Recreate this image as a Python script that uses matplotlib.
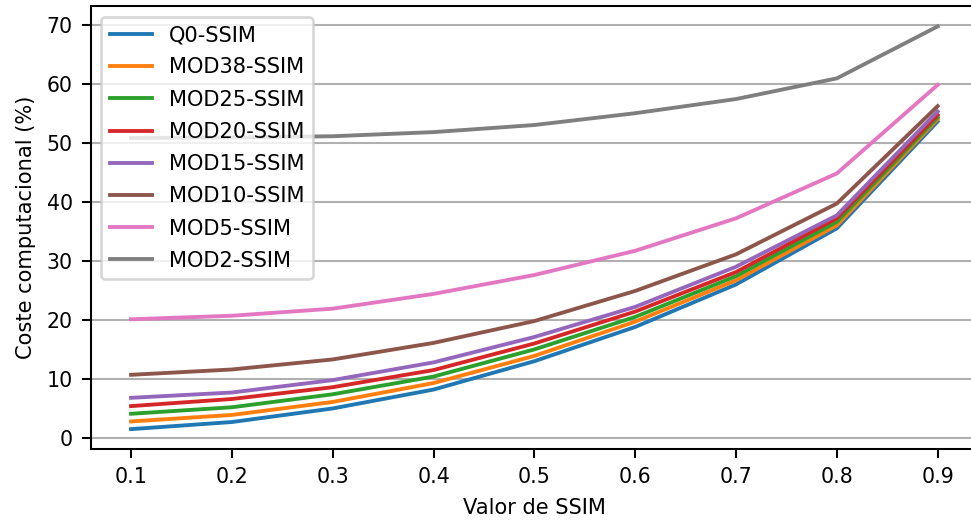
import numpy as np
import matplotlib.pyplot as plt

# Valores de SSIM y coste computacional (%) de cada configuración
ssim = [0.1, 0.2, 0.3, 0.4, 0.5, 0.6, 0.7, 0.8, 0.9]

q0 = [1.5, 2.7, 5.0, 8.2, 13.0, 18.8, 26.0, 35.5, 53.6]
mod38 = [2.8, 3.9, 6.1, 9.3, 13.9, 19.7, 26.7, 36.0, 54.0]
mod25 = [4.1, 5.2, 7.4, 10.4, 15.0, 20.5, 27.4, 36.6, 54.3]
mod20 = [5.4, 6.6, 8.6, 11.5, 16.0, 21.4, 28.1, 37.2, 54.7]
mod15 = [6.8, 7.7, 9.8, 12.8, 17.1, 22.2, 29.0, 37.7, 55.3]
mod10 = [10.7, 11.6, 13.3, 16.1, 19.8, 24.9, 31.1, 39.7, 56.2]
mod5 = [20.1, 20.7, 21.9, 24.4, 27.6, 31.7, 37.2, 44.8, 59.8]
mod2 = [50.8, 50.9, 51.1, 51.8, 53.0, 55.0, 57.4, 60.9, 69.7]

series = [q0, mod38, mod25, mod20, mod15, mod10, mod5, mod2]
labels = ['Q0-SSIM', 'MOD38-SSIM', 'MOD25-SSIM', 'MOD20-SSIM',
          'MOD15-SSIM', 'MOD10-SSIM', 'MOD5-SSIM', 'MOD2-SSIM']

plt.rcParams['font.size'] = 8

dpi = 185
fig, ax = plt.subplots(figsize=(971/dpi, 523/dpi), dpi=dpi)
fig.subplots_adjust(left=0.0934, right=1.0072, bottom=0.141, top=0.988)

for y, lab in zip(series, labels):
    ax.plot(ssim, y, label=lab)

ax.grid(axis='y')
ax.set_axisbelow(True)
ax.set_xticks(ssim)
ax.set_xlabel('Valor de SSIM', fontsize=8.2)
ax.set_ylabel('Coste computacional (%)', fontsize=8.2)
ax.legend(loc='upper left', fontsize=8.2, labelspacing=0.58)

plt.savefig('out.png', dpi=dpi)
